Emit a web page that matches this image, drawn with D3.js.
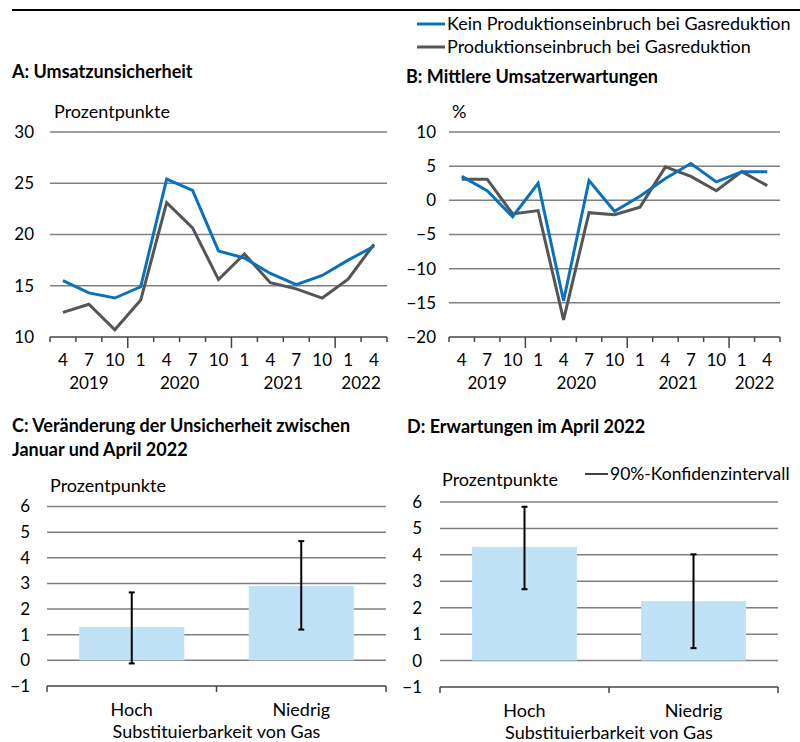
<!DOCTYPE html>
<html>
<head>
<meta charset="utf-8">
<script src="https://cdn.jsdelivr.net/npm/d3@7"></script>
<style>
  body { margin: 0; background: #fff; }
  svg { font-family: Lato, "Source Sans Pro", sans-serif; }
</style>
</head>
<body>
<svg id="chart" width="800" height="742"></svg>
<script>
// quarters (month of survey) and the year each one belongs to
var months = ["4", "7", "10", "1", "4", "7", "10", "1", "4", "7", "10", "1", "4"];
var years = ["2019", "2019", "2019", "2020", "2020", "2020", "2020", "2021", "2021", "2021", "2021", "2022", "2022"];

// A: Umsatzunsicherheit (Prozentpunkte)
var uncNoDrop = [15.5, 14.3, 13.8, 14.9, 25.4, 24.3, 18.4, 17.7, 16.2, 15.1, 16.0, 17.5, 18.85];
var uncDrop = [12.4, 13.2, 10.7, 13.6, 23.1, 20.65, 15.6, 18.1, 15.3, 14.7, 13.8, 15.65, 19.05];

// B: Mittlere Umsatzerwartungen (%)
var expNoDrop = [3.5, 1.4, -2.4, 2.5, -14.7, 2.9, -1.6, 0.6, 3.2, 5.4, 2.7, 4.2, 4.2];
var expDrop = [3.1, 3.1, -2.0, -1.5, -17.5, -1.8, -2.1, -1.0, 4.9, 3.5, 1.4, 4.2, 2.15];

// C and D: bars with 90% confidence intervals
var substCats = ["Hoch", "Niedrig"];
var uncChange = [1.3, 2.9];
var uncChangeLo = [-0.12, 1.2];
var uncChangeHi = [2.65, 4.65];
var expApril = [4.3, 2.25];
var expAprilLo = [2.7, 0.47];
var expAprilHi = [5.82, 4.02];

var blue = "#0a72ba", grey = "#555555", gridCol = "#808080", barCol = "#bfe2f7";

var svg = d3.select("#chart");

// top rule
svg.append("line").attr("x1", 12).attr("x2", 800).attr("y1", 10).attr("y2", 10)
  .attr("stroke", "#000").attr("stroke-width", 2);

// legend top right
var legend = [{ name: "Kein Produktionseinbruch bei Gasreduktion", color: blue },
              { name: "Produktionseinbruch bei Gasreduktion", color: grey }];
legend.forEach(function(d, i) {
  var y = 24 + i * 23;
  svg.append("line").attr("x1", 417).attr("x2", 445).attr("y1", y).attr("y2", y)
    .attr("stroke", d.color).attr("stroke-width", 3);
  svg.append("text").attr("x", 447).attr("y", y + 6).attr("font-size", 18).text(d.name);
});

function title(x, y, lines) {
  var t = svg.append("text").attr("x", x).attr("y", y).attr("font-size", 18).attr("font-weight", "bold");
  lines.forEach(function(l, i) {
    t.append("tspan").attr("x", x).attr("dy", i ? 24 : 0).text(l);
  });
}

function yLabels(g, y, ticks, xEnd) {
  var ax = d3.axisLeft(y).tickValues(ticks).tickSize(0).tickPadding(0).tickFormat(d3.format("d"));
  var gg = g.append("g").attr("transform", "translate(" + xEnd + ",0)").call(ax);
  gg.select(".domain").remove();
  gg.selectAll("text").attr("font-size", 17).attr("font-family", "Lato, sans-serif").attr("fill", "#000");
}

function grid(g, y, ticks, x0, x1) {
  g.selectAll("line.grid").data(ticks).enter().append("line").attr("class", "grid")
    .attr("x1", x0).attr("x2", x1)
    .attr("y1", function(d) { return y(d); }).attr("y2", function(d) { return y(d); })
    .attr("stroke", gridCol).attr("stroke-width", 1.5);
}

function linePanel(opts) {
  var g = svg.append("g");
  var x = d3.scaleBand().domain(d3.range(months.length)).range(opts.xr).padding(0);
  var y = d3.scaleLinear().domain(opts.yd).range(opts.yr);
  var ticks = d3.range(opts.yd[0], opts.yd[1] + 0.01, opts.step);

  g.append("text").attr("x", opts.unitX).attr("y", opts.yr[1] - 14).attr("font-size", 18).text(opts.unit);
  grid(g, y, ticks.slice(1), opts.xr[0], opts.xr[1]);
  yLabels(g, y, ticks, opts.labelX);

  // bottom axis line and ticks
  var yb = y(opts.yd[0]);
  g.append("line").attr("x1", opts.xr[0]).attr("x2", opts.xr[1]).attr("y1", yb).attr("y2", yb)
    .attr("stroke", "#444").attr("stroke-width", 1.5);
  var bounds = d3.range(months.length + 1);
  g.selectAll("line.tk").data(bounds).enter().append("line").attr("class", "tk")
    .attr("x1", function(i) { return i < months.length ? x(i) : opts.xr[1]; })
    .attr("x2", function(i) { return i < months.length ? x(i) : opts.xr[1]; })
    .attr("y1", yb)
    .attr("y2", function(i) {
      var yearStart = i > 0 && i < months.length && years[i] !== years[i - 1];
      return yb + (yearStart ? 11 : 5);
    })
    .attr("stroke", "#444").attr("stroke-width", 1.5);

  var xa = d3.axisBottom(x).tickSize(0).tickPadding(0).tickFormat(function(i) { return months[i]; });
  var xg = g.append("g").attr("transform", "translate(0," + (yb + 17) + ")").call(xa);
  xg.select(".domain").remove();
  xg.selectAll("text").attr("font-size", 17).attr("font-family", "Lato, sans-serif").attr("fill", "#000").attr("dy", "0.71em");

  // year labels centred on their groups
  var groups = d3.groups(d3.range(months.length), function(i) { return years[i]; });
  groups.forEach(function(gr) {
    var idx = gr[1];
    var cx = (x(idx[0]) + x(idx[idx.length - 1]) + x.bandwidth()) / 2;
    g.append("text").attr("x", cx).attr("y", yb + 52).attr("text-anchor", "middle")
      .attr("font-size", 17).text(gr[0]);
  });

  var line = d3.line().x(function(d, i) { return x(i) + x.bandwidth() / 2; }).y(function(d) { return y(d); });
  [[opts.grey, grey], [opts.blue, blue]].forEach(function(s) {
    g.append("path").datum(s[0]).attr("d", line).attr("fill", "none")
      .attr("stroke", s[1]).attr("stroke-width", 3).attr("stroke-linejoin", "miter");
  });
}

function barPanel(opts) {
  var g = svg.append("g");
  var x = d3.scaleBand().domain(substCats).range(opts.xr).paddingInner(0.38).paddingOuter(0.19);
  var xs = d3.scaleBand().domain(substCats).range(opts.xr).padding(0);
  var y = d3.scaleLinear().domain([-1, 6]).range(opts.yr);
  var ticks = d3.range(-1, 7);

  g.append("text").attr("x", opts.unitX).attr("y", opts.unitY).attr("font-size", 18).text("Prozentpunkte");
  grid(g, y, ticks.slice(1), opts.xr[0], opts.xr[1]);
  yLabels(g, y, ticks, opts.labelX);

  var yb = y(-1);
  g.append("line").attr("x1", opts.xr[0]).attr("x2", opts.xr[1]).attr("y1", yb).attr("y2", yb)
    .attr("stroke", "#444").attr("stroke-width", 1.5);
  var tickX = [opts.xr[0]].concat(substCats.map(function(c) { return xs(c) + xs.bandwidth(); }));
  g.selectAll("line.tk").data(tickX).enter().append("line").attr("class", "tk")
    .attr("x1", function(d) { return d; }).attr("x2", function(d) { return d; })
    .attr("y1", yb).attr("y2", yb + 6).attr("stroke", "#444").attr("stroke-width", 1.5);

  g.selectAll("rect.bar").data(substCats).enter().append("rect").attr("class", "bar")
    .attr("x", function(c) { return x(c); }).attr("width", x.bandwidth())
    .attr("y", function(c, i) { return y(opts.vals[i]); })
    .attr("height", function(c, i) { return y(0) - y(opts.vals[i]); })
    .attr("fill", barCol);

  substCats.forEach(function(c, i) {
    var cx = x(c) + x.bandwidth() / 2;
    var y1 = y(opts.hi[i]), y2 = y(opts.lo[i]);
    g.append("line").attr("x1", cx).attr("x2", cx).attr("y1", y1).attr("y2", y2)
      .attr("stroke", "#000").attr("stroke-width", 2);
    [y1, y2].forEach(function(yy) {
      g.append("line").attr("x1", cx - 3).attr("x2", cx + 3).attr("y1", yy).attr("y2", yy)
        .attr("stroke", "#000").attr("stroke-width", 2);
    });
    g.append("text").attr("x", cx).attr("y", yb + 30).attr("text-anchor", "middle")
      .attr("font-size", 18).text(c);
  });
  g.append("text").attr("x", (opts.xr[0] + opts.xr[1]) / 2).attr("y", yb + 52)
    .attr("text-anchor", "middle").attr("font-size", 18).text("Substituierbarkeit von Gas");
}

title(12, 78, ["A: Umsatzunsicherheit"]);
title(406, 83, ["B: Mittlere Umsatzerwartungen"]);
title(12, 432, ["C: Veränderung der Unsicherheit zwischen", "Januar und April 2022"]);
title(407, 433, ["D: Erwartungen im April 2022"]);

linePanel({ xr: [50, 387], yd: [10, 30], yr: [337, 132], step: 5, labelX: 34,
  unit: "Prozentpunkte", unitX: 54, blue: uncNoDrop, grey: uncDrop });
linePanel({ xr: [449, 780], yd: [-20, 10], yr: [337, 132], step: 5, labelX: 436,
  unit: "%", unitX: 452, blue: expNoDrop, grey: expDrop });

barPanel({ xr: [47, 386], yr: [686, 506.5], labelX: 30, unitX: 50, unitY: 492,
  vals: uncChange, lo: uncChangeLo, hi: uncChangeHi });
barPanel({ xr: [440, 778], yr: [687, 502], labelX: 422, unitX: 442, unitY: 486,
  vals: expApril, lo: expAprilLo, hi: expAprilHi });

// confidence interval legend in D
svg.append("line").attr("x1", 585).attr("x2", 608).attr("y1", 474).attr("y2", 474)
  .attr("stroke", "#000").attr("stroke-width", 1.5);
svg.append("text").attr("x", 610).attr("y", 480).attr("font-size", 17.5).text("90%-Konfidenzintervall");
</script>
</body>
</html>
